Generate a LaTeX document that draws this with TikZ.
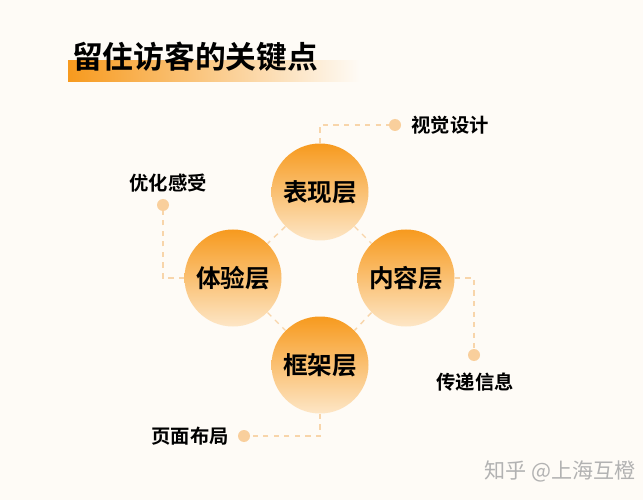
\documentclass[tikz,border=0pt]{standalone}
\usepackage{fontspec}
\newfontfamily\cjk{Noto Sans CJK SC Bold}
\newfontfamily\cjkl{Noto Sans CJK SC}
\definecolor{bg}{HTML}{FEFBF6}
\definecolor{org}{HTML}{F79A1E}
\definecolor{lorg}{HTML}{FDE6C6}
\definecolor{dsh}{HTML}{F8D5AA}
\definecolor{dotc}{HTML}{F9CF9C}
\begin{document}
\begin{tikzpicture}[x=0.02cm,y=-0.02cm,
  layer/.style={circle,minimum size=97*0.02cm,inner sep=0pt,top color=org,bottom color=lorg,font=\cjk\fontsize{14}{14}\selectfont},
  conn/.style={dsh,dashed,line width=0.8pt},
  dotn/.style={circle,fill=dotc,minimum size=12*0.02cm,inner sep=0pt},
  lbl/.style={font=\cjk\fontsize{11}{11}\selectfont}]
\fill[bg] (0,0) rectangle (643,500);
\useasboundingbox (0,0) rectangle (643,500);
\shade[left color=org,right color=bg] (68,61) rectangle (360,82);
\node[font=\cjk\fontsize{17.5}{17.5}\selectfont,anchor=west] (title) at (66,57) {留住访客的关键点};
\node[layer] (t) at (320,192) {表现层};
\node[layer] (l) at (233,278) {体验层};
\node[layer] (r) at (406,278) {内容层};
\node[layer] (b) at (320,365) {框架层};
\draw[conn] (t.225) -- (l.45);
\draw[conn] (t.-45) -- (r.135);
\draw[conn] (l.-45) -- (b.135);
\draw[conn] (r.225) -- (b.45);
\node[dotn] (d1) at (395,125) {};
\node[dotn] (d2) at (163,205) {};
\node[dotn] (d3) at (474,355) {};
\node[dotn] (d4) at (244,436) {};
\draw[conn] (t.north) -- (320,125) -- (d1);
\draw[conn] (l.west) -- (163,278) -- (d2);
\draw[conn] (r.east) -- (474,278) -- (d3);
\draw[conn] (b.south) -- (320,436) -- (d4);
\node[lbl] (n1) at (450,125) {视觉设计};
\node[lbl] (n2) at (168,183) {优化感受};
\node[lbl] (n3) at (475,382) {传递信息};
\node[lbl] (n4) at (190,436) {页面布局};
\node[font=\cjkl\fontsize{12}{12}\selectfont,text=gray!60] (wm) at (560,471) {知乎 @上海互橙};
\end{tikzpicture}
\end{document}
